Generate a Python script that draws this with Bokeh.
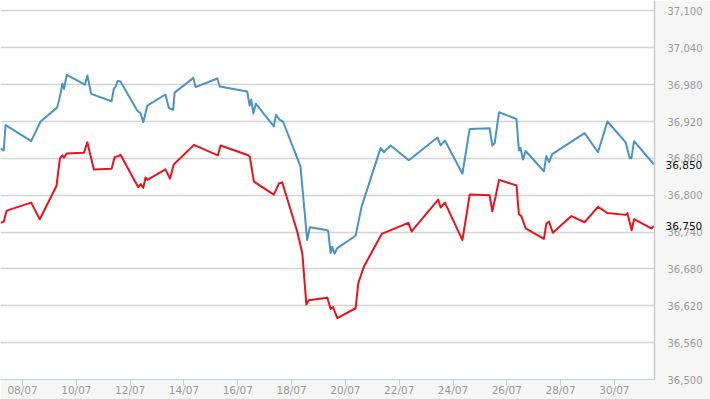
from bokeh.plotting import figure
from bokeh.models import Range1d, FixedTicker, NumeralTickFormatter, LinearAxis
from bokeh.embed import file_html
from bokeh.resources import INLINE

# Day of July (fractional) and values
blue_days = [7.18, 7.30, 7.37, 8.32, 8.67, 9.29, 9.41, 9.48, 9.54, 9.64, 10.32, 10.41, 10.55,
             11.31, 11.39, 11.46, 11.54, 11.64, 12.26, 12.39, 12.49, 12.64, 13.31, 13.44, 13.60,
             13.65, 14.35, 14.43, 15.24, 15.33, 16.35, 16.44, 16.50, 16.58, 16.67, 17.34, 17.42,
             17.55, 17.68, 18.33, 18.58, 18.68, 19.33, 19.36, 19.45, 19.51, 19.60, 19.70, 20.38,
             20.60, 21.31, 21.43, 21.68, 22.36, 23.42, 23.54, 23.70, 24.35, 24.62, 25.36, 25.46,
             25.55, 25.71, 26.36, 26.45, 26.51, 26.60, 26.70, 27.38, 27.47, 27.57, 27.69, 28.89,
             29.39, 29.74, 30.42, 30.57, 30.63, 30.73, 31.47]
blue_vals = [36876, 36873, 36914, 36888, 36920, 36943, 36965, 36982, 36973, 36996, 36980, 36995, 36965,
             36953, 36973, 36977, 36986, 36985, 36938, 36933, 36919, 36946, 36964, 36942, 36939,
             36967, 36991, 36976, 36990, 36977, 36969, 36946, 36956, 36933, 36949, 36912, 36931,
             36923, 36920, 36847, 36727, 36748, 36743, 36742, 36706, 36716, 36705, 36714, 36734,
             36781, 36877, 36870, 36881, 36857, 36894, 36881, 36889, 36835, 36908, 36909, 36881,
             36885, 36935, 36924, 36873, 36877, 36858, 36872, 36839, 36864, 36854, 36867, 36901,
             36870, 36920, 36886, 36860, 36860, 36888, 36850]

red_days = [7.18, 7.30, 7.41, 8.32, 8.64, 9.26, 9.39, 9.48, 9.54, 9.64, 10.28, 10.41, 10.65,
            11.31, 11.42, 11.58, 11.64, 12.30, 12.39, 12.49, 12.57, 12.64, 13.31, 13.48, 13.62,
            14.37, 15.26, 15.36, 16.39, 16.45, 16.60, 17.34, 17.53, 17.65, 18.21, 18.40, 18.55,
            18.64, 19.33, 19.45, 19.54, 19.70, 20.38, 20.48, 20.69, 21.35, 22.34, 22.46, 23.45,
            23.54, 23.70, 24.35, 24.62, 25.36, 25.46, 25.58, 25.71, 26.36, 26.45, 26.54, 26.70,
            27.38, 27.47, 27.57, 27.63, 27.71, 28.40, 28.89, 29.39, 29.74, 30.42, 30.48, 30.64,
            30.73, 31.37, 31.47]
red_vals = [36755, 36757, 36775, 36788, 36761, 36815, 36860, 36865, 36861, 36868, 36869, 36886, 36842,
            36843, 36862, 36864, 36866, 36813, 36818, 36812, 36829, 36825, 36842, 36827, 36850,
            36882, 36865, 36881, 36865, 36862, 36822, 36801, 36819, 36821, 36741, 36705, 36622,
            36629, 36633, 36615, 36618, 36600, 36616, 36657, 36684, 36737, 36755, 36741, 36793,
            36780, 36788, 36727, 36801, 36800, 36774, 36797, 36825, 36816, 36769, 36766, 36746,
            36729, 36754, 36757, 36749, 36739, 36766, 36756, 36781, 36771, 36768, 36771, 36743,
            36761, 36746, 36750]

x_tick_days = [8, 10, 12, 14, 16, 18, 20, 22, 24, 26, 28, 30]
x_tick_labels = ["08/07", "10/07", "12/07", "14/07", "16/07", "18/07", "20/07",
                 "22/07", "24/07", "26/07", "28/07", "30/07"]
y_ticks = [36500, 36560, 36620, 36680, 36740, 36800, 36860, 36920, 36980, 37040, 37100]
last_vals = [blue_vals[-1], red_vals[-1]]

FONT = "DejaVu Sans"

p = figure(width=710, height=399, output_backend="svg", toolbar_location=None,
           x_range=Range1d(7.18, 31.49), y_range=Range1d(36500, 37117),
           y_axis_location="right",
           min_border_left=0, min_border_top=0, min_border_right=56, min_border_bottom=20,
           background_fill_color="white", border_fill_color="#f6f6f6",
           outline_line_color=None)

p.line(blue_days, blue_vals, line_color="#4a93c6", line_width=2, line_join="round")
p.line(red_days, red_vals, line_color="#e8141b", line_width=2, line_join="round")

# x axis
xa = p.xaxis[0]
xa.ticker = FixedTicker(ticks=x_tick_days)
xa.major_label_overrides = {d: l for d, l in zip(x_tick_days, x_tick_labels)}
xa.axis_line_color = "#c0d0e0"
xa.axis_line_width = 1
xa.major_tick_line_color = "#c0d0e0"
xa.major_tick_out = 6
xa.major_tick_in = 0
xa.minor_tick_line_color = None
xa.major_label_standoff = -2
xa.major_label_text_color = "#999999"
xa.major_label_text_font = FONT
xa.major_label_text_font_size = "10.5px"

# y axis (right)
ya = p.yaxis[0]
ya.ticker = FixedTicker(ticks=y_ticks)
ya.formatter = NumeralTickFormatter(format="0,0")
ya.axis_line_color = "#cccccc"
ya.axis_line_width = 1.5
ya.major_tick_line_color = None
ya.major_tick_out = 0
ya.major_tick_in = 0
ya.minor_tick_line_color = None
ya.major_label_standoff = 13
ya.major_label_text_color = "#999999"
ya.major_label_text_font = FONT
ya.major_label_text_font_size = "10px"

# last-value labels (black), overlapping the grey tick labels
la = LinearAxis(ticker=FixedTicker(ticks=last_vals), formatter=NumeralTickFormatter(format="0,0"))
la.axis_line_color = None
la.major_tick_line_color = None
la.minor_tick_line_color = None
la.major_tick_out = 0
la.major_tick_in = 0
la.major_label_standoff = -40
la.major_label_text_color = "#111111"
la.major_label_text_font = FONT
la.major_label_text_font_size = "10.5px"
p.add_layout(la, "right")

p.xgrid.visible = False
p.ygrid.grid_line_color = "#d4d4d4"
p.ygrid.grid_line_width = 1.5

open("out.html", "w").write(file_html(p, INLINE))
